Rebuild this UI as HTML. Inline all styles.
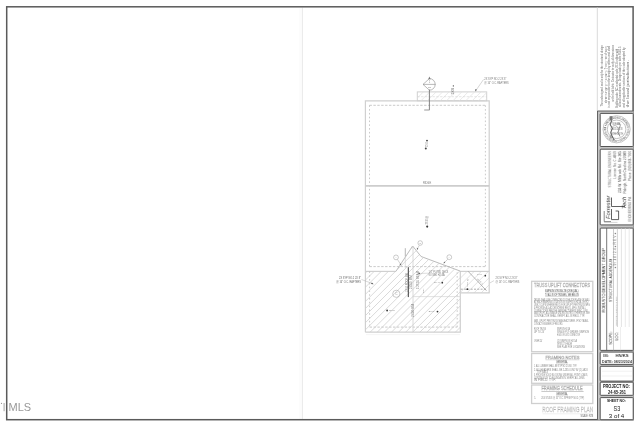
<!DOCTYPE html>
<html><head><meta charset="utf-8">
<style>
html,body{margin:0;padding:0;background:#fff;width:640px;height:427px;overflow:hidden;}
svg{display:block;filter:grayscale(1);}
text{font-family:"Liberation Sans",sans-serif;}
</style></head>
<body>
<svg width="640" height="427" viewBox="0 0 640 427">
<defs>
  <clipPath id="porchClip">
    <polygon points="365.4,271.4 395.9,271.4 412.6,246 421.1,256.5 460.3,271.1 460.3,332.2 365.4,332.2"/>
  </clipPath>
  <clipPath id="topClip">
    <rect x="417.3" y="91.9" width="69.4" height="8.9"/>
  </clipPath>
  <clipPath id="rbClip">
    <rect x="460.3" y="271.4" width="28.9" height="21.4"/>
  </clipPath>
</defs>

<line x1="302.4" y1="7.5" x2="302.4" y2="419" stroke="#ebebeb" stroke-width="1.2"/><line x1="299.9" y1="7.5" x2="299.9" y2="419" stroke="#f8f8f8" stroke-width="0.8"/>
<rect x="6.7" y="6.8" width="626.4" height="412.9" fill="none" stroke="#5a5a5a" stroke-width="1.5"/>
<text x="8.6" y="411.2" font-size="11.3" fill="#999" textLength="22.6" lengthAdjust="spacingAndGlyphs">MLS</text>
<line x1="4.1" y1="403" x2="4.1" y2="411.2" stroke="#999" stroke-width="0.9"/>
<circle cx="1.5" cy="403.3" r="0.6" fill="#888"/>
<g fill="none">
<polyline points="365.4,332.2 365.4,100.9 489.2,100.9 489.2,292.8 460.3,292.8" stroke="#d0d0d0" stroke-width="1.2"/>
<line x1="365.4" y1="271.4" x2="396" y2="271.4" stroke="#d0d0d0" stroke-width="1.2"/>
<line x1="460.3" y1="271.4" x2="489.2" y2="271.4" stroke="#d0d0d0" stroke-width="1.2"/>
<polyline points="460.3,271.1 460.3,332.2 365.4,332.2" stroke="#d0d0d0" stroke-width="1.2"/>
<line x1="366" y1="334.6" x2="460" y2="334.6" stroke="#eee" stroke-width="0.6"/>
<path d="M369.5,105.3 H485.4 M369.5,266.6 H485.4" stroke="#bdbdbd" stroke-width="0.8" stroke-dasharray="2.4,1.5"/>
<path d="M369.5,105.3 V266.6 M485.4,105.3 V266.6" stroke="#bdbdbd" stroke-width="0.8" stroke-dasharray="1.6,2.2"/>
<path d="M369.6,271.4 V327.1 M457.2,327.1 V271.4" stroke="#bdbdbd" stroke-width="0.8" stroke-dasharray="1.6,2.2"/>
<path d="M369.6,327.1 H457.2" stroke="#bdbdbd" stroke-width="0.8" stroke-dasharray="2.4,1.5"/>
<line x1="365.4" y1="185.8" x2="489.2" y2="185.8" stroke="#cdcdcd" stroke-width="1.8"/>
<text x="427" y="184.4" font-size="2.6" fill="#777" text-anchor="middle">RIDGE</text>
<rect x="417.3" y="91.9" width="69.4" height="8.9" stroke="#d0d0d0" stroke-width="1"/>
<g clip-path="url(#topClip)" stroke="#e0e0e0" stroke-width="0.7"><path d="M401.70,100.80 l10.90,-10.90 M408.10,100.80 l10.90,-10.90 M414.50,100.80 l10.90,-10.90 M420.90,100.80 l10.90,-10.90 M427.30,100.80 l10.90,-10.90 M433.70,100.80 l10.90,-10.90 M440.10,100.80 l10.90,-10.90 M446.50,100.80 l10.90,-10.90 M452.90,100.80 l10.90,-10.90 M459.30,100.80 l10.90,-10.90 M465.70,100.80 l10.90,-10.90 M472.10,100.80 l10.90,-10.90 M478.50,100.80 l10.90,-10.90 M484.90,100.80 l10.90,-10.90 M491.30,100.80 l10.90,-10.90"/></g>
<line x1="417.3" y1="96.7" x2="486.7" y2="96.7" stroke="#d4d4d4" stroke-width="0.6" stroke-dasharray="2.4,1.4"/>
<text transform="translate(453.7,94.6) rotate(-90)" font-size="2.6" fill="#666" textLength="9.8" lengthAdjust="spacingAndGlyphs">2X8 ●</text>
<path d="M429.4,78.6 A5.8,5.8 0 0,1 429.4,90.2 L423,84.4 Z" fill="none" stroke="#8a8a8a" stroke-width="0.6"/>
<line x1="423" y1="84.4" x2="435.6" y2="84.4" stroke="#8a8a8a" stroke-width="0.6"/>
<path d="M429.4,76.4 L430.6,79.2 L428.2,79.2 Z" fill="#777"/>
<text x="429.4" y="83.3" font-size="2.6" fill="#888" text-anchor="middle">1</text>
<text x="429.4" y="88.2" font-size="2.4" fill="#888" text-anchor="middle">S3</text>
<line x1="429.4" y1="89.5" x2="429.4" y2="110" stroke="#777" stroke-width="0.9"/>
<line x1="424.2" y1="110" x2="429.6" y2="110" stroke="#999" stroke-width="1"/>
<path d="M483.5,79.5 L475.6,90.9" stroke="#aaa" stroke-width="0.5"/>
<path d="M475.3,91.5 l0.1,-2.6 l1.5,0.9 z" fill="#555"/>
<text x="484.3" y="80.3" font-size="2.6" fill="#777" textLength="22" lengthAdjust="spacingAndGlyphs">2X SYP NO.2 2X 8"</text>
<text x="484.3" y="83.8" font-size="2.6" fill="#777" textLength="24.4" lengthAdjust="spacingAndGlyphs">@ 16" O.C. RAFTERS</text>
<circle cx="427" cy="140.6" r="0.95" fill="#444"/>
<circle cx="425.8" cy="148.6" r="1" fill="#444"/>
<text transform="translate(427.6,147.2) rotate(-90)" font-size="2.6" fill="#999" textLength="5" lengthAdjust="spacingAndGlyphs">2X8</text>
<circle cx="427.2" cy="226.6" r="1.05" fill="#333"/>
<text transform="translate(428,224.5) rotate(-90)" font-size="2.8" fill="#888" textLength="8.5" lengthAdjust="spacingAndGlyphs">2X8 @</text>
<polyline points="395.9,271.4 412.6,246 421.1,256.5 460.3,271.1" stroke="#aaa" stroke-width="0.8"/>
<line x1="413" y1="246" x2="413" y2="332" stroke="#d0d0d0" stroke-width="0.8"/>
<line x1="405.3" y1="248.2" x2="405.3" y2="256.4" stroke="#999" stroke-width="0.7"/>
<line x1="405.3" y1="256.4" x2="405.3" y2="268" stroke="#ccc" stroke-width="0.6"/>
<line x1="413" y1="296.6" x2="460.3" y2="296.6" stroke="#d4d4d4" stroke-width="0.7"/>
<g clip-path="url(#porchClip)" stroke="#cecece" stroke-width="0.75"><path d="M269.90,333.00 l90.00,-90.00 M277.00,333.00 l90.00,-90.00 M284.10,333.00 l90.00,-90.00 M291.20,333.00 l90.00,-90.00 M298.30,333.00 l90.00,-90.00 M305.40,333.00 l90.00,-90.00 M312.50,333.00 l90.00,-90.00 M319.60,333.00 l90.00,-90.00 M326.70,333.00 l90.00,-90.00 M333.80,333.00 l90.00,-90.00 M340.90,333.00 l90.00,-90.00 M348.00,333.00 l90.00,-90.00 M355.10,333.00 l90.00,-90.00 M362.20,333.00 l90.00,-90.00 M369.30,333.00 l90.00,-90.00 M376.40,333.00 l90.00,-90.00 M383.50,333.00 l90.00,-90.00 M390.60,333.00 l90.00,-90.00 M397.70,333.00 l90.00,-90.00 M404.80,333.00 l90.00,-90.00 M411.90,333.00 l90.00,-90.00 M419.00,333.00 l90.00,-90.00 M426.10,333.00 l90.00,-90.00 M433.20,333.00 l90.00,-90.00 M440.30,333.00 l90.00,-90.00 M447.40,333.00 l90.00,-90.00 M454.50,333.00 l90.00,-90.00 M461.60,333.00 l90.00,-90.00"/></g>
<line x1="408.3" y1="267.2" x2="408.3" y2="297.1" stroke="#3a3a3a" stroke-width="1"/>
<circle cx="396" cy="257.4" r="2.4" stroke="#999" stroke-width="0.5"/>
<text x="396" y="258.2" font-size="2.16" fill="#999" text-anchor="middle">A</text>
<circle cx="420.2" cy="243" r="2.3" stroke="#999" stroke-width="0.5"/>
<text x="420.2" y="243.8" font-size="2.07" fill="#999" text-anchor="middle">B</text>
<circle cx="449.3" cy="257.2" r="2.4" stroke="#999" stroke-width="0.5"/>
<text x="449.3" y="258.0" font-size="2.16" fill="#999" text-anchor="middle">A</text>
<circle cx="396.3" cy="293.8" r="3.6" stroke="#999" stroke-width="0.5"/>
<text x="396.3" y="294.6" font-size="3.24" fill="#999" text-anchor="middle">C</text>
<path d="M397.5,259.5 L401,265 M419.3,245.3 L417,249.5 M447.8,259.2 L444,263" stroke="#999" stroke-width="0.45"/>
<path d="M417.3,250 l-0.6,-2.2 l1.6,0.6 z M401.3,265.5 l-1.8,-1 l1.4,-0.9 z M443.5,263.5 l0.6,-2 l1.2,1.2 z" fill="#666"/>
<line x1="418.5" y1="273.5" x2="428" y2="273.2" stroke="#aaa" stroke-width="0.4"/>
<path d="M418,273.6 l2,-1 l0,2 z" fill="#666"/>
<g fill="#808080">
<text transform="translate(407.5,292) rotate(-90)" font-size="2.7" textLength="18.8" lengthAdjust="spacingAndGlyphs">2X10 ROOF BM</text>
<text transform="translate(412.2,289.2) rotate(-90)" font-size="2.7" textLength="14" lengthAdjust="spacingAndGlyphs">2X10 BM</text>
<text transform="translate(419.2,289.2) rotate(-90)" font-size="2.7" textLength="18.3" lengthAdjust="spacingAndGlyphs">2-2X10 BEAM</text>
<text transform="translate(423.8,293) rotate(-90)" font-size="2.4" textLength="4.3" lengthAdjust="spacingAndGlyphs">(2)</text>
<text transform="translate(414.2,317) rotate(-90)" font-size="2.6" textLength="13" lengthAdjust="spacingAndGlyphs">2X10 BM</text>
</g>
<text x="428.6" y="272.6" font-size="2.6" fill="#777" textLength="19.7" lengthAdjust="spacingAndGlyphs">1/4" PLYWD DECK</text>
<text x="428.6" y="276.3" font-size="2.6" fill="#777" textLength="16" lengthAdjust="spacingAndGlyphs">W/ SIM. H2.5A</text>
<text x="434" y="283.4" font-size="2.5" fill="#888" textLength="6" lengthAdjust="spacingAndGlyphs">2X 6</text>
<circle cx="442.3" cy="282.7" r="0.85" fill="#333"/>
<circle cx="387.1" cy="310.5" r="0.9" fill="#333"/>
<text x="389" y="311.3" font-size="2.5" fill="#888" textLength="6" lengthAdjust="spacingAndGlyphs">2X6</text>
<text x="428.5" y="312" font-size="2.5" fill="#888" textLength="6" lengthAdjust="spacingAndGlyphs">2X6</text>
<circle cx="437.5" cy="311.6" r="0.9" fill="#333"/>
<g clip-path="url(#rbClip)" stroke="#cecece" stroke-width="0.6"><path d="M431.50,292.80 l23.40,-23.40 M438.60,292.80 l23.40,-23.40 M445.70,292.80 l23.40,-23.40 M452.80,292.80 l23.40,-23.40 M459.90,292.80 l23.40,-23.40 M467.00,292.80 l23.40,-23.40 M474.10,292.80 l23.40,-23.40 M481.20,292.80 l23.40,-23.40 M488.30,292.80 l23.40,-23.40 M495.40,292.80 l23.40,-23.40"/></g>
<line x1="468.1" y1="271.3" x2="486.6" y2="290.8" stroke="#888" stroke-width="0.6"/>
<line x1="460.8" y1="289.2" x2="487" y2="289.2" stroke="#777" stroke-width="0.6" stroke-dasharray="2,1.3"/>
<circle cx="467.3" cy="289.2" r="0.9" fill="#333"/>
<text transform="translate(468.3,286.8) rotate(-90)" font-size="2.5" fill="#888" textLength="8.2" lengthAdjust="spacingAndGlyphs">2X6 @</text>
<text x="477.1" y="275.3" font-size="2.4" fill="#999" textLength="5" lengthAdjust="spacingAndGlyphs">2X6</text>
<circle cx="485.3" cy="275.7" r="0.85" fill="#333"/>
<text transform="translate(476.6,279.2) rotate(45)" font-size="2.2" fill="#999" textLength="8" lengthAdjust="spacingAndGlyphs">2X6 @ 16</text>
<path d="M494,280.6 L489.8,283" stroke="#aaa" stroke-width="0.45"/>
<text x="495.6" y="279.4" font-size="2.6" fill="#777" textLength="22" lengthAdjust="spacingAndGlyphs">2X SYP NO.2 2X 8"</text>
<text x="495.6" y="282.8" font-size="2.6" fill="#777" textLength="23.7" lengthAdjust="spacingAndGlyphs">@ 16" O.C. RAFTERS</text>
<path d="M361.5,279.5 L373,283.8" stroke="#aaa" stroke-width="0.45"/>
<path d="M373.6,284.2 l-2.6,-0.3 l0.9,-1.5 z" fill="#555"/>
<text x="339" y="279.1" font-size="2.6" fill="#666" textLength="22" lengthAdjust="spacingAndGlyphs">2X SYP NO.2 2X 8"</text>
<text x="336.2" y="282.8" font-size="2.6" fill="#666" textLength="24.8" lengthAdjust="spacingAndGlyphs">@ 16" O.C. RAFTERS</text>
</g>
<g>
<rect x="531.6" y="281.3" width="61.2" height="70.4" fill="none" stroke="#cfcfcf" stroke-width="1.3"/>
<text x="534.1" y="287.2" font-size="5.6" fill="#fff" stroke="#a6a6a6" stroke-width="0.36" textLength="56" lengthAdjust="spacingAndGlyphs">TRUSS UPLIFT CONNECTORS</text>
<text x="545.1" y="291.7" font-size="2.7" fill="#444" textLength="33.2" lengthAdjust="spacingAndGlyphs">SIMPSON STRONG-TIE (OR EQUAL)</text>
<line x1="545.1" y1="292.1" x2="578.3" y2="292.1" stroke="#888" stroke-width="0.3"/>
<text x="545.1" y="296" font-size="2.7" fill="#444" textLength="33.6" lengthAdjust="spacingAndGlyphs">TO ALL ROOF TRUSSES, SEE BELOW</text>
<line x1="545.1" y1="296.4" x2="578.7" y2="296.4" stroke="#888" stroke-width="0.3"/>
<text x="533.9" y="300.5" font-size="2.6" fill="#858585" textLength="56" lengthAdjust="spacingAndGlyphs">TRUSS SHALL BE CONNECTED TO THE TOP PLATE OF WALL</text>
<text x="533.9" y="303.1" font-size="2.6" fill="#858585" textLength="55" lengthAdjust="spacingAndGlyphs">AT EACH BEARING LOCATION W/ SIMPSON H2.5A OR EQ.</text>
<text x="533.9" y="306.2" font-size="2.6" fill="#858585" textLength="56" lengthAdjust="spacingAndGlyphs">USE 2 CLIPS WHERE REQ'D FOR UPLIFT PER TRUSS MFG</text>
<text x="533.9" y="308.8" font-size="2.6" fill="#858585" textLength="52" lengthAdjust="spacingAndGlyphs">& PROVIDE ALL ACCESSORIES REQ'D. MFG. INSTALL</text>
<text x="533.9" y="311.6" font-size="2.6" fill="#858585" textLength="54" lengthAdjust="spacingAndGlyphs">CONNECTORS PER THE MANUFACTURER'S SPEC. UNO</text>
<text x="533.9" y="314.2" font-size="2.6" fill="#858585" textLength="56" lengthAdjust="spacingAndGlyphs">MAX UPLIFT ALLOWABLE UNLESS NOTED OTHERWISE. SEE</text>
<text x="533.9" y="316.7" font-size="2.6" fill="#858585" textLength="51" lengthAdjust="spacingAndGlyphs">CONTRACTOR SHALL VERIFY ALL IN FIELD. TYP.</text>
<text x="533.9" y="322.4" font-size="2.6" fill="#858585" textLength="55" lengthAdjust="spacingAndGlyphs">MAX. UPLIFT PER TRUSS MANUFACTURER. IF NOT AVAIL.</text>
<text x="533.9" y="324.7" font-size="2.6" fill="#858585" textLength="29" lengthAdjust="spacingAndGlyphs">CONTACT ENGINEER OF RECORD.</text>
<text x="533.9" y="330.4" font-size="2.6" fill="#858585" textLength="12" lengthAdjust="spacingAndGlyphs">ROOF TRUSS</text>
<text x="557" y="330.4" font-size="2.6" fill="#858585" textLength="13" lengthAdjust="spacingAndGlyphs">SIMPSON H2.5A</text>
<text x="533.9" y="333.4" font-size="2.6" fill="#858585" textLength="10.5" lengthAdjust="spacingAndGlyphs">UP TO 24'</text>
<text x="557" y="333.4" font-size="2.6" fill="#858585" textLength="32" lengthAdjust="spacingAndGlyphs">SINGLE PLY GIRDER: SIMPSON</text>
<text x="557" y="336.4" font-size="2.6" fill="#858585" textLength="23" lengthAdjust="spacingAndGlyphs">HGUS OR LGT2 CONNECTOR</text>
<text x="533.9" y="342.4" font-size="2.6" fill="#858585" textLength="8.6" lengthAdjust="spacingAndGlyphs">OVER 24'</text>
<text x="557" y="342.4" font-size="2.6" fill="#858585" textLength="20" lengthAdjust="spacingAndGlyphs">(2) SIMPSON H2.5A</text>
<text x="557" y="345.1" font-size="2.6" fill="#858585" textLength="15" lengthAdjust="spacingAndGlyphs">OR MTS12 TO HEADER</text>
<text x="557" y="347.9" font-size="2.6" fill="#858585" textLength="28" lengthAdjust="spacingAndGlyphs">SEE PLAN FOR LOCATIONS</text>
<rect x="531.6" y="353.5" width="61.2" height="29.8" fill="none" stroke="#cfcfcf" stroke-width="1.3"/>
<text x="545.5" y="358.6" font-size="4.4" fill="#fff" stroke="#aaa" stroke-width="0.35" textLength="34" lengthAdjust="spacingAndGlyphs">FRAMING NOTES</text>
<line x1="545.5" y1="359.4" x2="579.5" y2="359.4" stroke="#bbb" stroke-width="0.35"/>
<line x1="545.5" y1="360.1" x2="579.5" y2="360.1" stroke="#ccc" stroke-width="0.35"/>
<text x="556" y="363.4" font-size="2.7" fill="#555" textLength="12" lengthAdjust="spacingAndGlyphs">GENERAL</text>
<line x1="556" y1="363.9" x2="568" y2="363.9" stroke="#888" stroke-width="0.3"/>
<text x="533.9" y="367.4" font-size="2.6" fill="#858585" textLength="43" lengthAdjust="spacingAndGlyphs">1. ALL LUMBER SHALL BE SYP NO.2 UNO. TYP.</text>
<text x="533.9" y="370.7" font-size="2.6" fill="#858585" textLength="54" lengthAdjust="spacingAndGlyphs">2. ALL HEADERS SHALL BE 2-2X10 UNO W/ (2) JACK</text>
<text x="537" y="372.9" font-size="2.6" fill="#858585" textLength="11" lengthAdjust="spacingAndGlyphs">TOP NAILS</text>
<text x="533.9" y="375.7" font-size="2.6" fill="#858585" textLength="54" lengthAdjust="spacingAndGlyphs">3. PROVIDE SOLID BLOCKING UNDER ALL POINT LOADS,</text>
<text x="533.9" y="378.7" font-size="2.6" fill="#858585" textLength="51" lengthAdjust="spacingAndGlyphs">CONTINUOUS TO FOUNDATION. VERIFY ALL DIMS.</text>
<text x="533.9" y="381.4" font-size="2.6" fill="#858585" textLength="22" lengthAdjust="spacingAndGlyphs">IN FIELD. TYP.</text>
<rect x="531.6" y="385" width="61.2" height="18.5" fill="none" stroke="#cfcfcf" stroke-width="1.3"/>
<text x="541.4" y="390.3" font-size="4.6" fill="#fff" stroke="#aaa" stroke-width="0.35" textLength="41.3" lengthAdjust="spacingAndGlyphs">FRAMING SCHEDULE</text>
<line x1="541.4" y1="391.5" x2="583.6" y2="391.5" stroke="#888" stroke-width="0.45"/>
<text x="556" y="395.3" font-size="2.7" fill="#555" textLength="12" lengthAdjust="spacingAndGlyphs">GENERAL</text>
<line x1="556" y1="395.8" x2="568" y2="395.8" stroke="#888" stroke-width="0.3"/>
<text x="534.2" y="399.3" font-size="2.6" fill="#858585" textLength="2" lengthAdjust="spacingAndGlyphs">1.</text>
<text x="541.2" y="399.3" font-size="2.6" fill="#858585" textLength="43" lengthAdjust="spacingAndGlyphs">2X4 STUDS @ 16&quot; O.C. SPF/SYP NO.2 (TYP)</text>
<text x="542.2" y="412.2" font-size="6.9" fill="#fff" stroke="#b2b2b2" stroke-width="0.33" textLength="51" lengthAdjust="spacingAndGlyphs">ROOF FRAMING PLAN</text>
<line x1="542.5" y1="413.8" x2="593.3" y2="413.8" stroke="#e0e0e0" stroke-width="0.5"/>
<text x="580.6" y="416.6" font-size="3" fill="#555" textLength="12.7" lengthAdjust="spacingAndGlyphs">SCALE: NTS</text>
</g>
<g>
<line x1="597.3" y1="7.5" x2="597.3" y2="111" stroke="#d6d6d6" stroke-width="0.9"/>
<text transform="translate(602.9,106.6) rotate(-90)" font-size="2.8" fill="#6a6a6a" textLength="61.2" lengthAdjust="spacingAndGlyphs">The undersigned seal is only for the structural design</text>
<text transform="translate(606.6,102.9) rotate(-90)" font-size="2.8" fill="#6a6a6a" textLength="56.7" lengthAdjust="spacingAndGlyphs">elements shown on this drawing. The engineer of record</text>
<text transform="translate(610.3,107.4) rotate(-90)" font-size="2.8" fill="#6a6a6a" textLength="61.6" lengthAdjust="spacingAndGlyphs">is not responsible for the design by others and shall</text>
<text transform="translate(613.9,102.0) rotate(-90)" font-size="2.8" fill="#6a6a6a" textLength="57.0" lengthAdjust="spacingAndGlyphs">not be held liable. Contractor to verify all dimensions</text>
<text transform="translate(617.7,107.8) rotate(-90)" font-size="2.8" fill="#6a6a6a" textLength="59.1" lengthAdjust="spacingAndGlyphs">Building code: NC residential code 2018 edition with</text>
<text transform="translate(621.4,107.0) rotate(-90)" font-size="2.8" fill="#6a6a6a" textLength="60.4" lengthAdjust="spacingAndGlyphs">all local amendments. Design loads per table R301.5</text>
<text transform="translate(625.2,107.4) rotate(-90)" font-size="2.8" fill="#6a6a6a" textLength="60.0" lengthAdjust="spacingAndGlyphs">and all applicable sections of the code adopted by</text>
<text transform="translate(628.8,107.4) rotate(-90)" font-size="2.8" fill="#6a6a6a" textLength="47.3" lengthAdjust="spacingAndGlyphs">the local jurisdiction.</text>
<rect x="597.5" y="111" width="36" height="308.7" fill="#c4c4c4"/>
<polyline points="597.5,419.7 597.5,111 633.2,111" fill="none" stroke="#555" stroke-width="0.9"/>
<g fill="#fff" stroke="#444" stroke-width="0.9">
<rect x="600.2" y="113.4" width="33" height="33.1" rx="0.8"/>
<rect x="600.2" y="149.2" width="33" height="75.7" rx="0.8"/>
<rect x="600.2" y="228.1" width="33" height="122.3" rx="0.8"/>
<rect x="600.2" y="352.1" width="33" height="12.3" rx="0.8"/>
<rect x="600.2" y="366.3" width="33" height="14.8" rx="0.8"/>
<rect x="600.2" y="382.2" width="33" height="13.1" rx="0.8"/>
<rect x="600.2" y="397.6" width="33" height="22.1" rx="0.8"/>
</g>
<g fill="none">
<circle cx="616.6" cy="129.3" r="13.6" stroke="#999" stroke-width="0.55"/>
<circle cx="616.6" cy="129.3" r="9.3" stroke="#999" stroke-width="0.6"/>
</g>
<defs><path id="sealRing" d="M616.6,139.9 a10.6,10.6 0 1,1 0.01,0"/></defs>
<text font-size="3.2" font-weight="bold" fill="#6a6a6a"><textPath href="#sealRing" textLength="65" lengthAdjust="spacingAndGlyphs">NORTH CAROLINA ● PROFESSIONAL ENGINEER ● SEAL 045123 ●</textPath></text>
<g fill="#777" text-anchor="middle" font-size="2.6">
<text x="616.6" y="124.6" textLength="9" lengthAdjust="spacingAndGlyphs">SEAL</text>
<text x="616.6" y="129.8" textLength="12" lengthAdjust="spacingAndGlyphs">045123</text>
<text x="616.6" y="135" textLength="13" lengthAdjust="spacingAndGlyphs">KEVIN SMITH</text>
</g>
<g fill="none">
<path d="M611,117.5 l0.4,4 l-1.2,3.2 l2.2,3.6 l-1.6,4 l1.2,3.6 l2.2,4.4" stroke="#6a6a6a" stroke-width="1.1"/>
<path d="M609.6,116.2 h2.8 v4 h-2.8 z" fill="#777" stroke="none"/>
<path d="M619,122.5 q2.5,3 0,6.5 q-2.5,3 1,7.5" stroke="#8a8a8a" stroke-width="0.9"/>
<path d="M612.5,126.5 q3,-2.5 6,1.5 q1.5,3.5 -2,5.5 q-2,1 -3,-1" stroke="#999" stroke-width="0.7"/>
<circle cx="611.2" cy="136.8" r="1.2" stroke="#666" stroke-width="0.7"/>
</g>
<g fill="#555">
<text transform="translate(611.1,187.5) rotate(-90)" font-size="3.8" fill="#6a6a6a" textLength="36.3" lengthAdjust="spacingAndGlyphs">STRUCTURAL ENGINEERS</text>
<text transform="translate(615.9,178.7) rotate(-90)" font-size="3.6" textLength="27.5" lengthAdjust="spacingAndGlyphs">License No. C-4869</text>
<text transform="translate(620.9,193) rotate(-90)" font-size="3.8" fill="#3c3c3c" textLength="41.8" lengthAdjust="spacingAndGlyphs">233 W. Millbrook Rd. Ste 205</text>
<text transform="translate(625.5,193.4) rotate(-90)" font-size="3.8" fill="#3c3c3c" textLength="42.2" lengthAdjust="spacingAndGlyphs">Raleigh, North Carolina 27609</text>
<text transform="translate(630.7,181.1) rotate(-90)" font-size="3.6" textLength="29.9" lengthAdjust="spacingAndGlyphs">Phone: (919) 866-7066</text>
<text transform="translate(631,221.5) rotate(-90)" font-size="2.6" fill="#555" textLength="25.5" lengthAdjust="spacingAndGlyphs">ENGINEERING P.A.</text>
</g>
<g fill="none" stroke="#3a3a3a" stroke-width="0.8">
<path d="M611.5,197.5 V206.5 H625"/>
<path d="M611.5,209 V219.6 H618.6 V211 H615.6"/>
<path d="M604.2,211 V221.6 H611" stroke-width="0.6"/>
<path d="M604.2,222.4 H617.5" stroke="#999" stroke-width="0.4"/>
</g>
<text transform="translate(609.8,219) rotate(-90)" font-size="4.6" font-style="italic" fill="#3a3a3a" textLength="23.5" lengthAdjust="spacingAndGlyphs">Forrester</text>
<text transform="translate(625.9,209.1) rotate(-90)" font-size="4.8" font-style="italic" fill="#333" textLength="12.4" lengthAdjust="spacingAndGlyphs">Tech</text>
<line x1="606.7" y1="228.1" x2="606.7" y2="350.4" stroke="#555" stroke-width="0.8"/>
<line x1="613.5" y1="228.1" x2="613.5" y2="350.4" stroke="#aaa" stroke-width="0.6"/>
<line x1="617.4" y1="228.1" x2="617.4" y2="327" stroke="#b4b4b4" stroke-width="0.6"/>
<line x1="621.4" y1="228.1" x2="621.4" y2="327" stroke="#cfcfcf" stroke-width="0.6"/>
<line x1="625.3" y1="228.1" x2="625.3" y2="327" stroke="#dcdcdc" stroke-width="0.6"/>
<line x1="629.2" y1="228.1" x2="629.2" y2="327" stroke="#dcdcdc" stroke-width="0.6"/>
<line x1="620.5" y1="327" x2="620.5" y2="350.4" stroke="#ddd" stroke-width="0.5"/>
<g fill="#2a2a2a">
<text transform="translate(605,312.6) rotate(-90)" font-size="4" textLength="64.4" lengthAdjust="spacingAndGlyphs">ROBUSTO DEVELOPMENT GROUP</text>
<text transform="translate(611.8,302) rotate(-90)" font-size="4.2" textLength="43.3" lengthAdjust="spacingAndGlyphs">STRUCTURAL ADDENDUM</text>
<text transform="translate(612,344.8) rotate(-90)" font-size="3.9" textLength="13.3" lengthAdjust="spacingAndGlyphs">SCOPE:</text>
<text transform="translate(618.4,340.6) rotate(-90)" font-size="3.9" textLength="8.8" lengthAdjust="spacingAndGlyphs">LOC:</text>
</g>
<text transform="translate(616.4,268.5) rotate(-90)" font-size="2.6" fill="#666" textLength="36" lengthAdjust="spacingAndGlyphs">● 9 / 1 8 / 2 4 ● R E V ●</text>
<text transform="translate(616.6,325.6) rotate(-90)" font-size="2.4" fill="#888" textLength="29" lengthAdjust="spacingAndGlyphs">ROOF FRAMING PLAN REV</text>
<g fill="#444" font-weight="bold">
<text x="603.2" y="357" font-size="3.8" textLength="5.6" lengthAdjust="spacingAndGlyphs">ENG:</text>
<text x="615.4" y="357" font-size="3.8" textLength="13.3" lengthAdjust="spacingAndGlyphs">HN/KS</text>
<text x="602.1" y="362.6" font-size="3.8" textLength="29.8" lengthAdjust="spacingAndGlyphs">DATE: 08/23/2024</text>
</g>
<line x1="602" y1="371.2" x2="632" y2="371.2" stroke="#e0e0e0" stroke-width="0.5"/>
<line x1="602" y1="376" x2="632" y2="376" stroke="#e0e0e0" stroke-width="0.5"/>
<g fill="#222">
<text x="602.9" y="387.8" font-size="4.6" font-weight="bold" textLength="26.9" lengthAdjust="spacingAndGlyphs">PROJECT NO:</text>
<text x="608" y="393.9" font-size="4.6" font-weight="bold" textLength="18" lengthAdjust="spacingAndGlyphs">24-65-261</text>
<text x="607" y="402.2" font-size="3.4" font-weight="bold" textLength="19" lengthAdjust="spacingAndGlyphs">SHEET NO:</text>
<text x="613.5" y="410.7" font-size="6.8" textLength="6.7" lengthAdjust="spacingAndGlyphs">S3</text>
<text x="608.8" y="418" font-size="5.4" textLength="15.5" lengthAdjust="spacingAndGlyphs">3 of 4</text>
</g>
</g>
</svg>
</body></html>
